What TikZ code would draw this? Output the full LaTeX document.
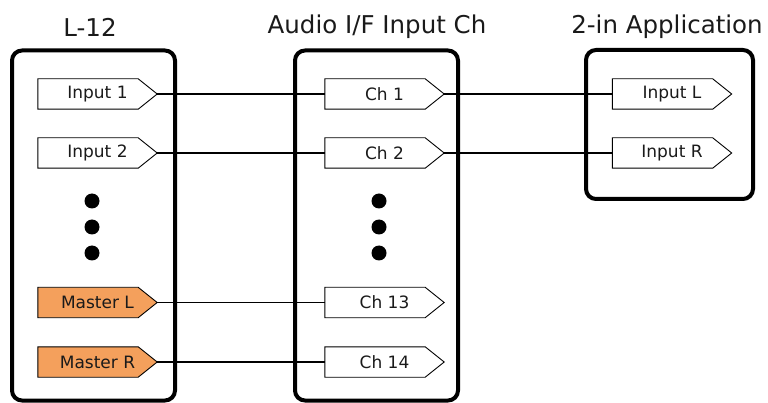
\documentclass[tikz,border=0pt]{standalone}
\usepackage{fontspec}
\setmainfont{DejaVu Sans}
\definecolor{master}{HTML}{F4A05C}
\definecolor{txt}{HTML}{1A1A1A}
\tikzset{
  portbox/.style={minimum width=119pt, minimum height=30pt, inner sep=0pt, text=txt, font=\fontsize{17}{19}\selectfont},
  group/.style={draw, line width=4pt, rounded corners=10pt, inner sep=0pt},
  title/.style={text=txt, font=\fontsize{24.5}{27}\selectfont, inner sep=0pt},
  wire/.style={line width=1.3pt},
  dot/.style={fill=black, circle, minimum size=15pt, inner sep=0pt},
  outline/.style={draw, line width=0.9pt, line join=miter}
}
\newcommand{\myport}[5]{%
  \node[portbox] (#1) at (#2,#3) {#4};
  \draw[outline, fill=#5] (#1.north west) -- ([xshift=-19pt]#1.north east) -- (#1.east) -- ([xshift=-19pt]#1.south east) -- (#1.south west) -- cycle;
  \node[portbox] at (#1) {#4};
}
\begin{document}
\begin{tikzpicture}[x=1pt,y=-1pt]
\useasboundingbox (0,0) rectangle (768,403);
% group boxes
\node[group, minimum width=163pt, minimum height=350pt] (l12) at (93.5,225.5) {};
\node[group, minimum width=163pt, minimum height=350pt] (aif) at (376.5,225.5) {};
\node[group, minimum width=167pt, minimum height=149pt] (app) at (669.5,124.5) {};
% titles
\node[title] (tl12) at (90,27) {L-12};
\node[title] (taif) at (377,27) {Audio I/F Input Ch};
\node[title] (tapp) at (667,27) {2-in Application};
% ports
\myport{in1}{97.5}{94}{Input 1}{white}
\myport{in2}{97.5}{153}{Input 2}{white}
\myport{mL}{97.5}{302.5}{Master L}{master}
\myport{mR}{97.5}{362}{Master R}{master}
\myport{ch1}{384.5}{94}{Ch 1}{white}
\myport{ch2}{384.5}{153}{Ch 2}{white}
\myport{ch13}{384.5}{302.5}{Ch 13}{white}
\myport{ch14}{384.5}{362}{Ch 14}{white}
\myport{inL}{672}{94}{Input L}{white}
\myport{inR}{672}{153}{Input R}{white}
% dots
\node[dot] (d1) at (92,201) {};
\node[dot] (d2) at (92,227) {};
\node[dot] (d3) at (92,253) {};
\node[dot] (e1) at (379,201) {};
\node[dot] (e2) at (379,227) {};
\node[dot] (e3) at (379,253) {};
% wires
\draw[wire] (in1.east) -- (ch1.west);
\draw[wire] (in2.east) -- (ch2.west);
\draw[wire] (mL.east) -- (ch13.west);
\draw[wire] (mR.east) -- (ch14.west);
\draw[wire] (ch1.east) -- (inL.west);
\draw[wire] (ch2.east) -- (inR.west);
\end{tikzpicture}
\end{document}
